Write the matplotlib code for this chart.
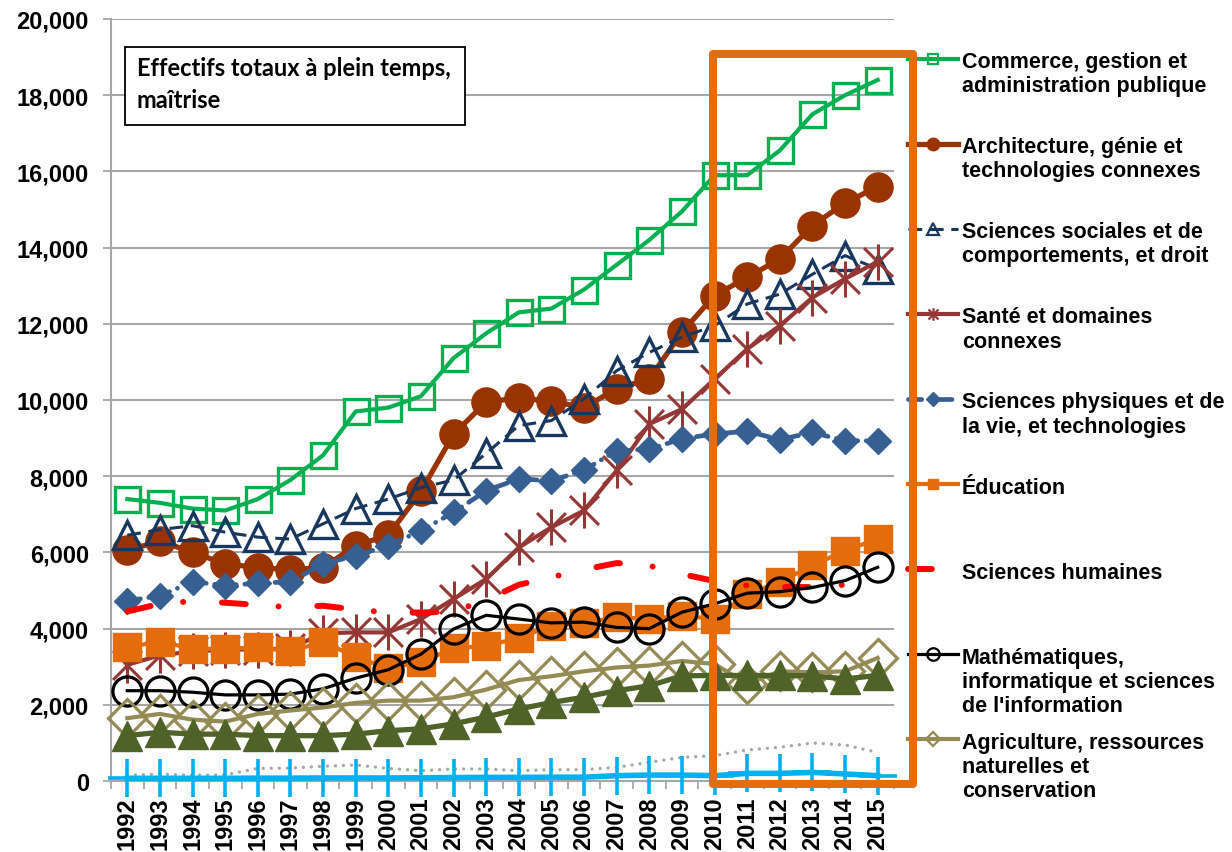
import matplotlib
matplotlib.use("Agg")
import matplotlib.pyplot as plt
from matplotlib.lines import Line2D
from matplotlib.path import Path
from matplotlib.patches import Rectangle
from matplotlib.ticker import FuncFormatter, FixedLocator, MultipleLocator

# ---------------- data ----------------
years = list(range(1992, 2016))

labels = [
    "Commerce, gestion et\nadministration publique",
    "Architecture, génie et\ntechnologies connexes",
    "Sciences sociales et de\ncomportements, et droit",
    "Santé et domaines\nconnexes",
    "Sciences physiques et de\nla vie, et technologies",
    "Éducation",
    "Sciences humaines",
    "Mathématiques,\ninformatique et sciences\nde l'information",
    "Agriculture, ressources\nnaturelles et\nconservation",
]

commerce = [7400, 7300, 7150, 7100, 7400, 7900, 8550, 9700, 9800, 10100, 11100, 11750,
            12300, 12400, 12900, 13550, 14200, 14950, 15900, 15900, 16550, 17500, 18000, 18400]
architecture = [6050, 6300, 6000, 5700, 5600, 5550, 5600, 6180, 6450, 7600, 9100, 9950,
                10050, 9970, 9800, 10300, 10550, 11780, 12740, 13220, 13700, 14580, 15170, 15600]
sociales = [6450, 6600, 6700, 6530, 6400, 6350, 6750, 7150, 7400, 7700, 7900, 8600,
            9330, 9460, 10030, 10770, 11250, 11650, 11950, 12520, 12780, 13300, 13790, 13440]
sante = [3050, 3300, 3400, 3450, 3450, 3480, 3880, 3900, 3900, 4250, 4780, 5300,
         6130, 6660, 7100, 8150, 9370, 9760, 10550, 11340, 11950, 12690, 13180, 13630]
physiques = [4730, 4860, 5230, 5130, 5190, 5230, 5700, 5910, 6180, 6570, 7050, 7620,
             7930, 7880, 8160, 8670, 8710, 8980, 9110, 9180, 8960, 9150, 8930, 8930]
education = [3510, 3660, 3470, 3470, 3510, 3400, 3660, 3250, 2960, 3120, 3480, 3550,
             3750, 4080, 4150, 4300, 4250, 4340, 4250, 4910, 5220, 5660, 6040, 6360]
humaines = [4450, 4650, 4720, 4680, 4620, 4560, 4600, 4500, 4420, 4420, 4450, 4750,
            5150, 5350, 5550, 5720, 5650, 5430, 5250, 5130, 5090, 5090, 5150, 5200]
mathinfo = [2370, 2370, 2330, 2260, 2260, 2280, 2420, 2700, 2920, 3330, 3990, 4350,
            4250, 4150, 4170, 4030, 4000, 4430, 4650, 4930, 4970, 5080, 5260, 5610]
agriculture = [1650, 1760, 1610, 1560, 1760, 1850, 1930, 2050, 2110, 2110, 2200, 2400,
               2650, 2750, 2880, 2980, 3030, 3150, 3070, 2550, 2880, 2850, 2880, 3230]
autre_a = [1190, 1280, 1230, 1230, 1190, 1190, 1190, 1230, 1320, 1370, 1500, 1680,
           1890, 2060, 2200, 2370, 2500, 2760, 2770, 2770, 2770, 2760, 2680, 2770]
autre_b = [150, 180, 150, 160, 330, 340, 385, 420, 330, 270, 315, 315,
           270, 297, 297, 360, 490, 620, 665, 815, 885, 997, 945, 750]
autre_c = [70, 70, 70, 70, 75, 75, 80, 80, 80, 85, 90, 95,
           95, 100, 100, 140, 155, 155, 140, 200, 200, 225, 185, 140]

title_text = "Effectifs totaux à plein temps,\nmaîtrise"

# ---------------- figure ----------------
W, H, DPI = 1232, 853, 100
fig = plt.figure(figsize=(W / DPI, H / DPI), dpi=DPI)
fig.patch.set_facecolor("white")
ax = fig.add_axes([111 / W, 1 - 782 / H, (894 - 111) / W, (782 - 20) / H])

FONT = "Liberation Sans"
GRID = "#A6A6A6"

# asterisk marker (X + vertical bar), like Excel's star marker
ast = Path([(-1, -1), (1, 1), (-1, 1), (1, -1), (0, -1.25), (0, 1.25)],
           [Path.MOVETO, Path.LINETO] * 3)

styles = [
    dict(color="#00B050", lw=3.0, ls="-", marker="s", ms=18, mfc="none", mew=2.4),
    dict(color="#993300", lw=3.8, ls="-", marker="o", ms=21, mfc="#993300", mew=1),
    dict(color="#17375E", lw=2.2, ls=(0, (4.5, 2.5)), marker="^", ms=20, mfc="none", mew=2.4),
    dict(color="#953735", lw=3.0, ls="-", marker=ast, ms=26, mfc="none", mew=2.2),
    dict(color="#376092", lw=3.4, ls=(0, (2.8, 1.8, 0.01, 1.8)), marker="D", ms=13, mfc="#376092", mew=1,
         dash_capstyle="round"),
    dict(color="#E46C0A", lw=3.0, ls="-", marker="s", ms=20, mfc="#E46C0A", mew=1),
    dict(color="#FF0000", lw=4.3, ls=(0, (4, 5.5, 0.01, 6.5)), marker=None, dash_capstyle="round"),
    dict(color="#000000", lw=2.3, ls="-", marker="o", ms=21, mfc="none", mew=2.3),
    dict(color="#948A54", lw=3.0, ls="-", marker="D", ms=19, mfc="none", mew=2.3),
    dict(color="#4F6228", lw=3.8, ls="-", marker="^", ms=21, mfc="#4F6228", mew=1),
    dict(color="#A6A6A6", lw=2.4, ls=(0, (0.01, 2.4)), marker=None, dash_capstyle="round"),
    dict(color="#00B0F0", lw=4.0, ls="-", marker="+", ms=27, mew=2.6),
]
series = [commerce, architecture, sociales, sante, physiques, education, humaines,
          mathinfo, agriculture, autre_a, autre_b, autre_c]

for i, (vals, st) in enumerate(zip(series, styles)):
    st = dict(st)
    ax.plot(years, vals, color=st.pop("color"), linewidth=st.pop("lw"), linestyle=st.pop("ls"),
            marker=st.pop("marker"), markersize=st.pop("ms", 0),
            markerfacecolor=st.pop("mfc", "none"), markeredgewidth=st.pop("mew", 1),
            zorder=3 + i, solid_joinstyle="round", clip_on=False, **st)

# axes styling
ax.set_xlim(years[0] - 0.5, years[-1] + 0.5)
ax.set_ylim(0, 20000)
ax.yaxis.set_major_locator(MultipleLocator(2000))
ax.yaxis.set_major_formatter(FuncFormatter(lambda v, p: f"{int(v):,}"))
ax.xaxis.set_major_locator(FixedLocator(years))
ax.xaxis.set_minor_locator(FixedLocator([y - 0.5 for y in years] + [years[-1] + 0.5]))
ax.set_xticks(years)
ax.set_xticklabels([str(y) for y in years], rotation=90, fontsize=17,
                   fontweight="bold", family=FONT, va="top")
for lab in ax.get_yticklabels():
    lab.set_fontsize(17)
    lab.set_fontweight("bold")
    lab.set_family(FONT)
ax.tick_params(axis="x", which="major", length=0, pad=11)
ax.tick_params(axis="x", which="minor", length=6, color=GRID, width=1.3, direction="out")
ax.tick_params(axis="y", length=6, color=GRID, width=1.3, pad=10)
ax.grid(axis="y", color=GRID, linewidth=1.5, zorder=0)
ax.set_axisbelow(True)
for s in ["top", "right"]:
    ax.spines[s].set_visible(False)
ax.spines["left"].set_color(GRID)
ax.spines["left"].set_linewidth(1.5)
ax.spines["bottom"].set_color(GRID)
ax.spines["bottom"].set_linewidth(1.5)

# legend with small markers
handles = []
for st in styles[:9]:
    m = st.get("marker")
    small = {"s": 7, "o": 9, "^": 8, "D": 7, "+": 8}.get(m, 9) if isinstance(m, str) else 9
    handles.append(Line2D([], [], color=st["color"], linewidth=st["lw"], linestyle=st["ls"],
                          marker=m, markersize=small,
                          markerfacecolor=st.get("mfc", "none"),
                          markeredgewidth=min(st.get("mew", 1), 1.6),
                          dash_capstyle=st.get("dash_capstyle", "butt")))
pad_labels = [l + "\n" * (2 - l.count("\n")) for l in labels]
leg = ax.legend(handles, pad_labels, loc="upper left",
                bbox_to_anchor=(908 / W, 1 - 52 / H), bbox_transform=fig.transFigure,
                frameon=False, borderpad=0, borderaxespad=0, handlelength=2.3,
                handletextpad=0.2, labelspacing=0.73,
                prop=dict(family=FONT, weight="bold", size=15.5))
leg.set_zorder(20)
for col in leg._legend_handle_box.get_children():
    for entry in col.get_children():
        entry.align = "top"

# title box
fig.add_artist(Rectangle((125 / W, 1 - 126 / H), 340 / W, 78 / H, transform=fig.transFigure,
                         facecolor="white", edgecolor="black", linewidth=1.3, zorder=25))
fig.text(137 / W, 1 - 57 / H, title_text, ha="left", va="top", fontsize=17,
         fontweight="bold", family="Lato", linespacing=1.45, zorder=26)

# orange highlight frame
fig.add_artist(Rectangle((713 / W, 1 - 785 / H), (913 - 713) / W, (785 - 55) / H,
                         transform=fig.transFigure, facecolor="none", edgecolor="#E46C0A",
                         linewidth=5.8, joinstyle="round", zorder=30))

fig.savefig("out.png", dpi=DPI)
